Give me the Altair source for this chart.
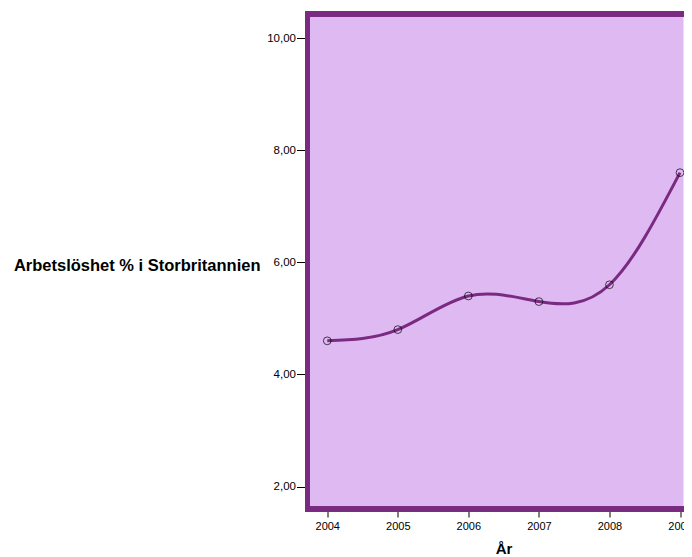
import altair as alt
import pandas as pd

years = [2004, 2005, 2006, 2007, 2008, 2009]
unemployment = [4.6, 4.8, 5.4, 5.3, 5.6, 7.6]
y_ticks = [2, 4, 6, 8, 10]

df = pd.DataFrame({"year": years, "value": unemployment})

purple = "#7B2A82"
fill = "#DFBAF2"
font = "Liberation Sans"
W, H = 376, 495

x = alt.X("year:Q", scale=alt.Scale(domain=[2003.72, 2003.72 + W / 70.55], nice=False, zero=False),
          axis=alt.Axis(title="År", values=years, format="d", domain=False, grid=False,
                        tickSize=8, tickColor="black", labelColor="black", labelFontSize=11,
                        labelFont=font, labelPadding=3, titleFont=font, titleFontSize=15,
                        titleFontWeight="bold", titleColor="black", titlePadding=10,
                        titleX=196, titleAnchor="middle"))
y = alt.Y("value:Q", scale=alt.Scale(domain=[1.6, 10.43], nice=False, zero=False),
          axis=alt.Axis(title="Arbetslöshet % i Storbritannien", values=y_ticks, domain=False,
                        grid=False, tickSize=11, tickColor="black", labelColor="black",
                        labelFontSize=11.5, labelFont=font, labelPadding=1,
                        labelExpr="replace(format(datum.value, '.2f'), '.', ',')",
                        titleAngle=0, titleAlign="right", titleBaseline="middle",
                        titleX=-47.5, titleY=251, titleFont=font, titleFontSize=16.5,
                        titleFontWeight="bold", titleColor="black"))

base = alt.Chart(df)
line = base.mark_line(color=purple, strokeWidth=3, interpolate="natural").encode(x=x, y=y)
pts = base.mark_point(shape="circle", filled=False, color="black", size=60,
                      strokeWidth=1).encode(x=x, y=y)

frame_left = base.mark_rule(color=purple, strokeWidth=5).encode(
    x=alt.value(0), y=alt.value(-2.5), y2=alt.value(H + 2.5))
frame_top = base.mark_rule(color=purple, strokeWidth=5).encode(
    x=alt.value(-2.5), x2=alt.value(W + 20), y=alt.value(0))
frame_bottom = base.mark_rule(color=purple, strokeWidth=5).encode(
    x=alt.value(-2.5), x2=alt.value(W + 20), y=alt.value(H))

chart = (line + pts + frame_left + frame_top + frame_bottom).properties(
    width=W, height=H,
    padding={"left": 299.5, "top": 6, "right": 0, "bottom": 48},
    autosize=alt.AutoSizeParams(type="none"),
).configure_view(fill=fill, stroke=None, strokeWidth=0)

chart.save("out.html", embed_options={"renderer": "svg", "actions": False})
